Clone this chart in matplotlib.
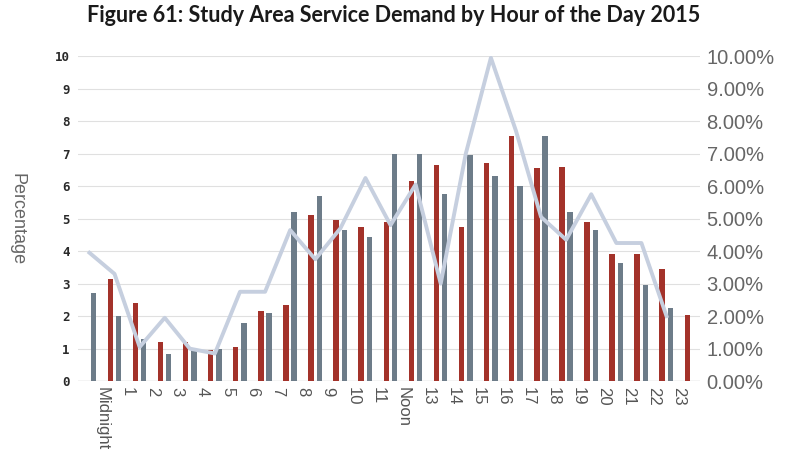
import matplotlib
matplotlib.use("Agg")
import matplotlib.pyplot as plt
import numpy as np

hours = ["Midnight", "1", "2", "3", "4", "5", "6", "7", "8", "9", "10", "11",
         "Noon", "13", "14", "15", "16", "17", "18", "19", "20", "21", "22", "23"]

# left-hand bars (slate grey) and right-hand bars (dark red), in percent
grey_bars = [2.7, 2.0, 1.3, 0.85, 1.0, 1.0, 1.8, 2.1, 5.2, 5.7, 4.65, 4.45,
             7.0, 7.0, 5.75, 6.95, 6.3, 6.0, 7.55, 5.2, 4.65, 3.65, 2.95, 2.25]
red_bars = [3.15, 2.4, 1.2, 1.2, 0.95, 1.05, 2.15, 2.35, 5.1, 4.95, 4.75, 4.9,
            6.15, 6.65, 4.75, 6.7, 7.55, 6.55, 6.6, 4.9, 3.9, 3.9, 3.45, 2.05]
# light line on the right-hand axis
line_vals = [3.95, 3.3, 1.05, 1.95, 1.0, 0.85, 2.75, 2.75, 4.65, 3.75, 4.7, 6.25,
             4.8, 6.05, 3.0, 7.0, 9.95, 7.7, 5.05, 4.35, 5.75, 4.25, 4.25, 2.0]
pct_ticks = ["0.00%", "1.00%", "2.00%", "3.00%", "4.00%", "5.00%",
             "6.00%", "7.00%", "8.00%", "9.00%", "10.00%"]

x = np.arange(len(hours))

fig = plt.figure(figsize=(7.87, 4.62), dpi=100)
ax = fig.add_axes([0.099, 0.175, 0.790, 0.7035])

ax.bar(x - 0.34, grey_bars, width=0.22, color="#6d7c89", zorder=2)
ax.bar(x + 0.33, red_bars, width=0.22, color="#a3322a", zorder=2)

ax2 = ax.twinx()
ax2.plot(x - 0.5, line_vals, color="#c6cfdf", linewidth=2.8, zorder=3)

for a in (ax, ax2):
    a.set_xlim(-0.96, 23.82)
    a.set_ylim(0, 10)
    for s in a.spines.values():
        s.set_visible(False)

ax.set_yticks(range(11))
ax.set_yticklabels([str(i) for i in range(11)], fontsize=9, fontweight="bold",
                   color="#2a2a2a", family="DejaVu Sans Mono")
ax.grid(axis="y", color="#e0e0e0", linewidth=0.8, zorder=0)
ax.set_axisbelow(True)
ax.axhline(0, color="#d0d0d0", linewidth=1.0, zorder=1)
ax.tick_params(axis="both", length=0)
ax.tick_params(axis="y", pad=6)
ax.tick_params(axis="x", pad=4)
ax.set_xticks(x)
ax.set_xticklabels(hours, rotation=270, fontsize=12, color="#555555",
                   family="Liberation Sans")
ax.set_ylabel("Percentage", rotation=270, fontsize=13, color="#666666",
              family="Liberation Sans", va="center")
ax.yaxis.set_label_coords(-0.098, 0.5)

ax2.set_yticks(range(11))
ax2.set_yticklabels(pct_ticks, fontsize=14.5, color="#666666", family="Liberation Sans")
ax2.tick_params(axis="y", length=0, pad=5)

fig.suptitle("Figure 61: Study Area Service Demand by Hour of the Day 2015",
             x=0.50, y=0.99, fontsize=15.5, fontweight="bold", color="#1a1a1a",
             family="Lato")

fig.savefig("out.png", dpi=100)
plt.close(fig)
